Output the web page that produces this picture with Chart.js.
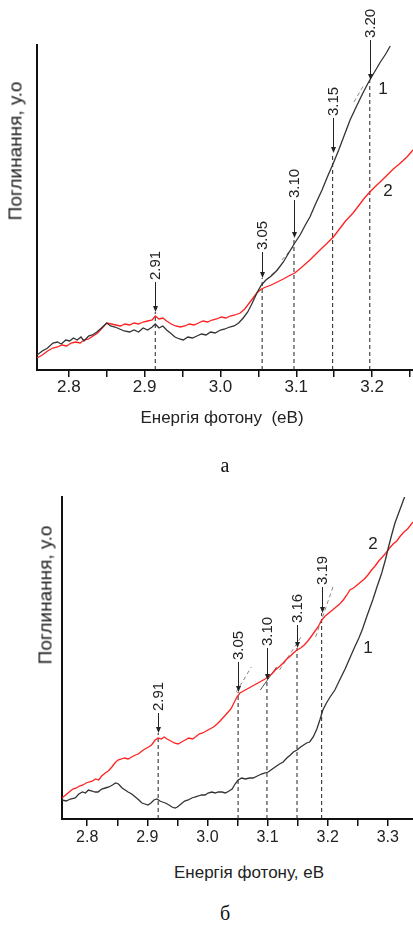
<!DOCTYPE html>
<html lang="uk">
<head>
  <meta charset="UTF-8" />
  <title>Поглинання - спектри</title>
  <script src="https://cdn.jsdelivr.net/npm/chart.js"></script>
  <style>
    body {
      margin: 0;
      background: #fff;
      font-family: 'Liberation Sans', Arial, sans-serif;
      color: #222;
    }
    .page { position: relative; width: 413px; height: 927px; overflow: hidden; }
    canvas { position: absolute; left: 0; }
    #chartA { top: 0; }
    #chartB { top: 480px; }
    .txt {
      position: absolute;
      transform: translate(-50%, -50%);
      white-space: nowrap;
      line-height: 1;
    }
    .ytitle { transform: translate(-50%, -50%) rotate(-90deg); font-size: 19px; }
    .xtitle { font-size: 17px; }
    .num { font-size: 17px; }
    .letter { font-family: 'Liberation Serif', 'DejaVu Serif', serif; font-size: 20px; color: #111; }
  </style>
</head>
<body>
<div class="page">
  <canvas id="chartA" width="413" height="410"></canvas>
  <canvas id="chartB" width="413" height="380"></canvas>

  <div class="txt ytitle" style="left:15px; top:151px;">Поглинання, у.о</div>
  <div class="txt xtitle" style="left:222px; top:417px;">Енергія фотону&nbsp; (eВ)</div>
  <div class="txt num" style="left:383px; top:88px;">1</div>
  <div class="txt num" style="left:388px; top:190px;">2</div>
  <div class="txt letter" style="left:225px; top:465px;">а</div>

  <div class="txt ytitle" style="left:45px; top:595px;">Поглинання, у.о</div>
  <div class="txt xtitle" style="left:249px; top:872px;">Енергія фотону, еВ</div>
  <div class="txt num" style="left:373px; top:543px;">2</div>
  <div class="txt num" style="left:368px; top:647px;">1</div>
  <div class="txt letter" style="left:225px; top:913px;">б</div>
</div>

<script>
  // ---- панель (а) ----
  const aE1 = [2.758, 2.765, 2.772, 2.779, 2.785, 2.790, 2.796, 2.801, 2.806, 2.811, 2.816, 2.820, 2.826, 2.831, 2.837, 2.843, 2.850, 2.855, 2.861, 2.867, 2.873, 2.880, 2.886, 2.892, 2.898, 2.904, 2.910, 2.914, 2.919, 2.924, 2.929, 2.934, 2.940, 2.946, 2.951, 2.957, 2.963, 2.969, 2.975, 2.981, 2.987, 2.993, 3.000, 3.006, 3.012, 3.018, 3.024, 3.030, 3.036, 3.042, 3.048, 3.054, 3.060, 3.067, 3.075, 3.083, 3.090, 3.098, 3.105, 3.112, 3.118, 3.126, 3.134, 3.141, 3.149, 3.156, 3.164, 3.171, 3.179, 3.186, 3.192, 3.197, 3.204, 3.211, 3.218, 3.224];
  const aY1 = [15, 19, 22, 27, 28, 26, 30, 29, 32, 30, 33, 29, 34, 35, 38, 42, 47, 44, 43, 41, 39, 38, 40, 38, 42, 40, 43, 46, 42, 44, 40, 37, 33, 31, 30, 33, 32, 34, 36, 35, 38, 37, 40, 41, 43, 44, 47, 52, 58, 67, 77, 85, 90, 94, 100, 108, 117, 127, 135, 145, 153, 167, 180, 193, 207, 220, 236, 250, 263, 274, 283, 290, 299, 308, 316, 324];
  const aE2 = [2.758, 2.765, 2.772, 2.779, 2.785, 2.791, 2.797, 2.803, 2.809, 2.815, 2.820, 2.826, 2.832, 2.838, 2.844, 2.850, 2.856, 2.862, 2.868, 2.874, 2.880, 2.886, 2.892, 2.898, 2.904, 2.910, 2.914, 2.919, 2.924, 2.929, 2.935, 2.941, 2.947, 2.953, 2.959, 2.965, 2.971, 2.977, 2.983, 2.989, 2.995, 3.001, 3.007, 3.013, 3.019, 3.026, 3.032, 3.039, 3.044, 3.048, 3.054, 3.060, 3.067, 3.075, 3.083, 3.090, 3.098, 3.106, 3.112, 3.118, 3.126, 3.134, 3.141, 3.149, 3.157, 3.165, 3.175, 3.183, 3.190, 3.197, 3.205, 3.212, 3.220, 3.228, 3.236, 3.246, 3.254];
  const aY2 = [12, 15, 19, 22, 23, 25, 24, 27, 28, 27, 30, 31, 34, 37, 42, 47, 46, 45, 44, 46, 45, 47, 46, 48, 49, 50, 54, 51, 52, 49, 46, 44, 43, 44, 46, 45, 47, 49, 48, 50, 51, 53, 52, 54, 55, 57, 61, 68, 73, 77, 81, 83, 85, 88, 91, 94, 97, 102, 106, 110, 116, 122, 127, 133, 141, 149, 157, 165, 172, 178, 184, 189, 195, 201, 206, 213, 220];
  const aMarkE = [2.914, 3.055, 3.097, 3.148, 3.197];
  const aMarkTip = [58, 92, 132, 217, 290];
  const aMarkLabel = ['2.91', '3.05', '3.10', '3.15', '3.20'];
  const aTangents = [[3.060, 90, 3.080, 104], [3.081, 110, 3.096, 123], [3.176, 268, 3.190, 286]];

  // ---- панель (б) ----
  const bE1 = [2.758, 2.765, 2.772, 2.780, 2.786, 2.792, 2.797, 2.802, 2.808, 2.813, 2.818, 2.824, 2.830, 2.836, 2.842, 2.847, 2.852, 2.858, 2.863, 2.868, 2.874, 2.880, 2.886, 2.891, 2.896, 2.901, 2.906, 2.911, 2.916, 2.921, 2.925, 2.930, 2.936, 2.941, 2.946, 2.950, 2.956, 2.962, 2.968, 2.974, 2.979, 2.985, 2.990, 2.996, 3.001, 3.007, 3.013, 3.018, 3.024, 3.030, 3.036, 3.041, 3.046, 3.051, 3.057, 3.063, 3.070, 3.076, 3.083, 3.090, 3.096, 3.101, 3.108, 3.115, 3.120, 3.126, 3.132, 3.138, 3.143, 3.149, 3.155, 3.160, 3.165, 3.170, 3.176, 3.182, 3.187, 3.192, 3.198, 3.204, 3.212, 3.220, 3.229, 3.237, 3.245, 3.252, 3.258, 3.266, 3.275, 3.282, 3.290, 3.296, 3.300, 3.306, 3.312, 3.320, 3.328];
  const bY1 = [19, 18, 20, 21, 25, 27, 26, 29, 28, 27, 27, 30, 31, 32, 34, 36, 35, 31, 29, 27, 25, 22, 19, 16, 15, 14, 16, 19, 20, 18, 17, 16, 14, 12, 11, 12, 15, 18, 19, 21, 22, 23, 24, 24, 26, 27, 26, 27, 27, 26, 28, 30, 35, 39, 41, 40, 41, 41, 43, 45, 46, 47, 50, 53, 55, 57, 61, 64, 67, 69, 72, 74, 76, 77, 82, 90, 99, 109, 116, 122, 129, 139, 150, 161, 172, 181, 190, 204, 219, 232, 246, 259, 269, 283, 296, 309, 322];
  const bE2 = [2.758, 2.764, 2.770, 2.776, 2.782, 2.787, 2.793, 2.798, 2.803, 2.809, 2.814, 2.819, 2.824, 2.830, 2.835, 2.841, 2.846, 2.851, 2.857, 2.862, 2.868, 2.874, 2.880, 2.885, 2.891, 2.896, 2.902, 2.907, 2.913, 2.918, 2.923, 2.928, 2.933, 2.939, 2.945, 2.951, 2.957, 2.963, 2.969, 2.975, 2.980, 2.986, 2.992, 2.998, 3.004, 3.010, 3.016, 3.021, 3.027, 3.033, 3.039, 3.044, 3.049, 3.054, 3.060, 3.066, 3.072, 3.078, 3.084, 3.090, 3.096, 3.101, 3.107, 3.113, 3.119, 3.126, 3.132, 3.138, 3.143, 3.149, 3.155, 3.161, 3.167, 3.172, 3.178, 3.184, 3.190, 3.196, 3.202, 3.208, 3.214, 3.220, 3.226, 3.232, 3.237, 3.243, 3.249, 3.255, 3.261, 3.267, 3.273, 3.279, 3.285, 3.291, 3.297, 3.303, 3.309, 3.315, 3.321, 3.327, 3.333, 3.342];
  const bY2 = [21, 24, 27, 30, 31, 33, 34, 36, 37, 38, 40, 39, 43, 46, 48, 52, 56, 59, 60, 61, 60, 62, 64, 65, 68, 70, 72, 74, 79, 81, 80, 82, 80, 78, 76, 75, 77, 79, 81, 80, 82, 85, 86, 88, 90, 92, 95, 98, 102, 106, 110, 116, 122, 126, 128, 130, 132, 134, 136, 138, 140, 142, 145, 149, 152, 156, 160, 163, 166, 169, 171, 174, 178, 182, 187, 192, 199, 203, 206, 209, 212, 215, 219, 224, 229, 231, 234, 237, 240, 244, 249, 253, 258, 262, 266, 271, 275, 278, 283, 287, 290, 297];
  const bMarkE = [2.918, 3.051, 3.099, 3.149, 3.190];
  const bMarkTip = [86, 127, 139, 171, 206];
  const bMarkLabel = ['2.91', '3.05', '3.10', '3.16', '3.19'];
  const bTangents = [[3.048, 127, 3.073, 152], [3.088, 129, 3.115, 152], [3.120, 149, 3.158, 184], [3.180, 182, 3.210, 234]];

  const zip = (xs, ys) => xs.map((x, i) => ({ x: x, y: ys[i] }));

  // стрілки з підписами над кривими
  const markerPlugin = {
    id: 'markers',
    afterDatasetsDraw(chart, args, opts) {
      const ctx = chart.ctx;
      const xs = chart.scales.x, ys = chart.scales.y;
      ctx.save();
      ctx.strokeStyle = '#222';
      ctx.fillStyle = '#222';
      ctx.lineWidth = 1;
      opts.energies.forEach((e, i) => {
        const px = Math.round(xs.getPixelForValue(e)) + 0.5;
        const tip = ys.getPixelForValue(opts.tips[i]);
        const top = tip - opts.lens[i];
        ctx.beginPath();
        ctx.moveTo(px, top);
        ctx.lineTo(px, tip - 5);
        ctx.stroke();
        ctx.beginPath();
        ctx.moveTo(px - 2.5, tip - 6);
        ctx.lineTo(px + 2.5, tip - 6);
        ctx.lineTo(px, tip);
        ctx.closePath();
        ctx.fill();
        ctx.save();
        ctx.translate(px, top - 2);
        ctx.rotate(-Math.PI / 2);
        ctx.font = opts.font;
        ctx.textAlign = 'left';
        ctx.textBaseline = 'middle';
        ctx.fillText(opts.labels[i], 0, 0);
        ctx.restore();
      });
      ctx.restore();
    }
  };

  function criarPainel(id, cfg) {
    const datasets = [
      { data: zip(cfg.e1, cfg.y1), borderColor: '#333', borderWidth: 1.3 },
      { data: zip(cfg.e2, cfg.y2), borderColor: '#ff2020', borderWidth: 1.3 }
    ];
    cfg.markE.forEach((e, i) => {
      datasets.push({ data: [{ x: e, y: 0 }, { x: e, y: cfg.markTip[i] }], borderColor: '#222', borderWidth: 1, borderDash: [4, 3] });
    });
    cfg.tangents.forEach((t, i) => {
      const solid = cfg.solidTangent === i;
      datasets.push({ data: [{ x: t[0], y: t[1] }, { x: t[2], y: t[3] }], borderColor: solid ? '#555' : '#888', borderWidth: 1, borderDash: solid ? [] : [4, 3] });
    });

    new Chart(document.getElementById(id), {
      type: 'line',
      data: { datasets: datasets },
      options: {
        responsive: false,
        animation: false,
        devicePixelRatio: 1,
        layout: { padding: cfg.padding },
        elements: { point: { radius: 0 }, line: { tension: 0 } },
        plugins: {
          legend: { display: false },
          tooltip: { enabled: false },
          markers: { energies: cfg.markE, tips: cfg.markTip, labels: cfg.markLabel, lens: cfg.lens, font: '15px "Liberation Sans", Arial, sans-serif' }
        },
        scales: {
          x: {
            type: 'linear',
            min: cfg.xMin,
            max: cfg.xMax,
            ticks: {
              stepSize: 0.05,
              includeBounds: false,
              autoSkip: false,
              maxRotation: 0,
              padding: cfg.tickPad,
              color: '#222',
              font: { family: '"Liberation Sans", Arial, sans-serif', size: cfg.tickSize },
              callback: v => Math.abs(v * 10 - Math.round(v * 10)) < 1e-6 ? v.toFixed(1) : ''
            },
            grid: { drawOnChartArea: false, drawTicks: true, tickLength: 7, color: '#111', lineWidth: 1.5 },
            border: { display: true, color: '#111', width: 2 },
            afterFit: s => { s.height = cfg.xHeight; }
          },
          y: {
            min: 0,
            max: cfg.yMax,
            ticks: { display: false },
            grid: { drawOnChartArea: false, drawTicks: false },
            border: { display: true, color: '#111', width: 2 },
            afterFit: s => { s.width = 0; }
          }
        }
      },
      plugins: [markerPlugin]
    });
  }

  criarPainel('chartA', {
    e1: aE1, y1: aY1, e2: aE2, y2: aY2,
    markE: aMarkE, markTip: aMarkTip, markLabel: aMarkLabel, lens: [30, 26, 38, 35, 40],
    tangents: aTangents, solidTangent: -1,
    xMin: 2.758, xMax: 3.254, yMax: 325,
    padding: { left: 37, top: 45, right: 0, bottom: 0 }, xHeight: 40, tickSize: 17, tickPad: 0
  });

  criarPainel('chartB', {
    e1: bE1, y1: bY1, e2: bE2, y2: bY2,
    markE: bMarkE, markTip: bMarkTip, markLabel: bMarkLabel, lens: [20, 30, 32, 23, 26],
    tangents: bTangents, solidTangent: 1,
    xMin: 2.758, xMax: 3.342, yMax: 322,
    padding: { left: 62, top: 17, right: 0, bottom: 0 }, xHeight: 41, tickSize: 16, tickPad: 2
  });
</script>
</body>
</html>
